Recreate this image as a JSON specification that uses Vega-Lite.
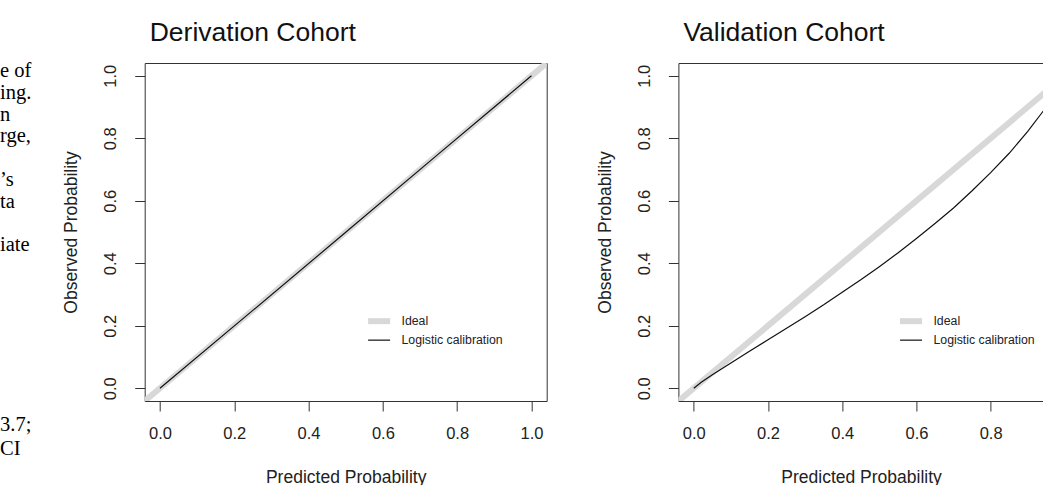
{
  "$schema": "https://vega.github.io/schema/vega-lite/v6.json",
  "background": "white",
  "padding": {"left": 0, "top": 19, "right": 0, "bottom": 0},
  "config": {
    "font": "Liberation Sans",
    "view": {"stroke": null},
    "axis": {
      "grid": false,
      "domainColor": "#333333",
      "tickColor": "#333333",
      "labelColor": "#222222",
      "titleColor": "#222222",
      "labelFont": "Liberation Sans",
      "titleFont": "Liberation Sans",
      "labelFontSize": 16.5,
      "titleFontSize": 17.5,
      "titleFontWeight": "normal",
      "tickSize": 10,
      "labelFlush": false,
      "labelOverlap": false
    },
    "axisX": {"labelPadding": 14, "titlePadding": 26.5},
    "axisY": {"labelAngle": -90, "labelAlign": "center", "labelBaseline": "bottom", "labelPadding": 16, "titlePadding": 22},
    "title": {"fontSize": 26.5, "fontWeight": "normal", "anchor": "start", "frame": "group", "color": "#111111", "offset": 17, "baseline": "alphabetic", "dx": 5, "font": "Liberation Sans"}
  },
  "datasets": {
    "notes": [
      {"row": 0, "text": "e of"},
      {"row": 1, "text": "ing."},
      {"row": 2, "text": "n"},
      {"row": 3, "text": "rge,"},
      {"row": 5, "text": "’s"},
      {"row": 6, "text": "ta"},
      {"row": 8, "text": "iate"},
      {"row": 16.24, "text": "3.7;"},
      {"row": 17.34, "text": "CI"}
    ],
    "curves": [
      {"panel": "Derivation", "series": "Ideal", "predicted": -0.05, "observed": -0.05},
      {"panel": "Derivation", "series": "Ideal", "predicted": 1.05, "observed": 1.05},
      {"panel": "Derivation", "series": "Logistic calibration", "predicted": 0.0, "observed": 0.0},
      {"panel": "Derivation", "series": "Logistic calibration", "predicted": 0.25, "observed": 0.249},
      {"panel": "Derivation", "series": "Logistic calibration", "predicted": 0.5, "observed": 0.499},
      {"panel": "Derivation", "series": "Logistic calibration", "predicted": 0.75, "observed": 0.75},
      {"panel": "Derivation", "series": "Logistic calibration", "predicted": 1.0, "observed": 1.0},
      {"panel": "Validation", "series": "Ideal", "predicted": -0.05, "observed": -0.05},
      {"panel": "Validation", "series": "Ideal", "predicted": 1.05, "observed": 1.05},
      {"panel": "Validation", "series": "Logistic calibration", "predicted": 0.0, "observed": 0.0},
      {"panel": "Validation", "series": "Logistic calibration", "predicted": 0.02, "observed": 0.019},
      {"panel": "Validation", "series": "Logistic calibration", "predicted": 0.05, "observed": 0.043},
      {"panel": "Validation", "series": "Logistic calibration", "predicted": 0.1, "observed": 0.081},
      {"panel": "Validation", "series": "Logistic calibration", "predicted": 0.15, "observed": 0.118},
      {"panel": "Validation", "series": "Logistic calibration", "predicted": 0.2, "observed": 0.155},
      {"panel": "Validation", "series": "Logistic calibration", "predicted": 0.25, "observed": 0.192},
      {"panel": "Validation", "series": "Logistic calibration", "predicted": 0.3, "observed": 0.229},
      {"panel": "Validation", "series": "Logistic calibration", "predicted": 0.35, "observed": 0.267},
      {"panel": "Validation", "series": "Logistic calibration", "predicted": 0.4, "observed": 0.307},
      {"panel": "Validation", "series": "Logistic calibration", "predicted": 0.45, "observed": 0.347},
      {"panel": "Validation", "series": "Logistic calibration", "predicted": 0.5, "observed": 0.389},
      {"panel": "Validation", "series": "Logistic calibration", "predicted": 0.55, "observed": 0.433},
      {"panel": "Validation", "series": "Logistic calibration", "predicted": 0.6, "observed": 0.479},
      {"panel": "Validation", "series": "Logistic calibration", "predicted": 0.65, "observed": 0.527},
      {"panel": "Validation", "series": "Logistic calibration", "predicted": 0.7, "observed": 0.577},
      {"panel": "Validation", "series": "Logistic calibration", "predicted": 0.75, "observed": 0.632},
      {"panel": "Validation", "series": "Logistic calibration", "predicted": 0.8, "observed": 0.69},
      {"panel": "Validation", "series": "Logistic calibration", "predicted": 0.85, "observed": 0.752},
      {"panel": "Validation", "series": "Logistic calibration", "predicted": 0.9, "observed": 0.822},
      {"panel": "Validation", "series": "Logistic calibration", "predicted": 0.95, "observed": 0.9},
      {"panel": "Validation", "series": "Logistic calibration", "predicted": 0.98, "observed": 0.955},
      {"panel": "Validation", "series": "Logistic calibration", "predicted": 1.0, "observed": 1.0}
    ]
  },
  "bounds": "flush",
  "spacing": 131.7,
  "hconcat": [
    {
      "width": 12.3,
      "height": 338,
      "data": {"name": "notes"},
      "mark": {"type": "text", "align": "left", "baseline": "middle", "font": "Liberation Serif", "fontSize": 20.5, "color": "#000000"},
      "encoding": {
        "x": {"datum": 0, "type": "quantitative", "scale": {"domain": [0, 1]}, "axis": null},
        "y": {"field": "row", "type": "quantitative", "scale": {"domain": [-0.367, 15.135], "reverse": true, "zero": false, "nice": false}, "axis": null},
        "text": {"field": "text"}
      }
    },
    {
      "width": 402,
      "height": 338,
      "title": {"text": "Derivation Cohort"},
      "data": {"name": "curves"},
      "transform": [{"filter": "datum.panel === 'Derivation'"}],
      "encoding": {
        "color": {"field": "series", "type": "nominal", "scale": {"domain": ["Ideal", "Logistic calibration"], "range": ["#d8d8d8", "#111111"]},
          "legend": {"title": null, "orient": "none", "legendX": 228.25, "legendY": 252, "symbolType": "M-4,0H4", "symbolSize": 30.25, "labelFontSize": 12.3, "labelOffset": 16.25, "rowPadding": -12, "labelColor": "#222222", "labelFont": "Liberation Sans"}},
        "strokeWidth": {"field": "series", "type": "nominal", "scale": {"domain": ["Ideal", "Logistic calibration"], "range": [6, 1.2]},
          "legend": {"title": null, "orient": "none", "legendX": 228.25, "legendY": 252, "symbolType": "M-4,0H4", "symbolSize": 30.25, "labelFontSize": 12.3, "labelOffset": 16.25, "rowPadding": -12, "labelColor": "#222222", "labelFont": "Liberation Sans"}}
      },
      "layer": [
        {
          "transform": [{"filter": "datum.series === 'Ideal'"}],
          "mark": {"type": "line", "clip": true},
          "encoding": {
            "x": {"field": "predicted", "type": "quantitative", "scale": {"domain": [-0.041, 1.041], "nice": false, "zero": false},
              "axis": {"orient": "bottom", "values": [0, 0.2, 0.4, 0.6, 0.8, 1.0], "format": ".1f", "title": "Predicted Probability"}},
            "y": {"field": "observed", "type": "quantitative", "scale": {"domain": [-0.041, 1.041], "nice": false, "zero": false},
              "axis": {"orient": "left", "values": [0, 0.2, 0.4, 0.6, 0.8, 1.0], "format": ".1f", "title": "Observed Probability"}}
          }
        },
        {
          "transform": [{"filter": "datum.series !== 'Ideal'"}],
          "mark": {"type": "line", "clip": true},
          "encoding": {
            "x": {"field": "predicted", "type": "quantitative",
              "axis": {"orient": "top", "labels": false, "ticks": false, "title": null, "domain": true}},
            "y": {"field": "observed", "type": "quantitative",
              "axis": {"orient": "right", "labels": false, "ticks": false, "title": null, "domain": true}}
          }
        }
      ],
      "resolve": {"axis": {"x": "independent", "y": "independent"}}
    },
    {
      "width": 365.3,
      "height": 338,
      "title": {"text": "Validation Cohort"},
      "data": {"name": "curves"},
      "transform": [{"filter": "datum.panel === 'Validation'"}],
      "encoding": {
        "color": {"field": "series", "type": "nominal", "scale": {"domain": ["Ideal", "Logistic calibration"], "range": ["#d8d8d8", "#111111"]},
          "legend": {"title": null, "orient": "none", "legendX": 226.5, "legendY": 252, "symbolType": "M-4,0H4", "symbolSize": 30.25, "labelFontSize": 12.3, "labelOffset": 16.25, "rowPadding": -12, "labelColor": "#222222", "labelFont": "Liberation Sans"}},
        "strokeWidth": {"field": "series", "type": "nominal", "scale": {"domain": ["Ideal", "Logistic calibration"], "range": [6, 1.2]},
          "legend": {"title": null, "orient": "none", "legendX": 226.5, "legendY": 252, "symbolType": "M-4,0H4", "symbolSize": 30.25, "labelFontSize": 12.3, "labelOffset": 16.25, "rowPadding": -12, "labelColor": "#222222", "labelFont": "Liberation Sans"}}
      },
      "layer": [
        {
          "transform": [{"filter": "datum.series === 'Ideal'"}],
          "mark": {"type": "line", "clip": true},
          "encoding": {
            "x": {"field": "predicted", "type": "quantitative", "scale": {"domain": [-0.0415, 0.943], "nice": false, "zero": false},
              "axis": {"orient": "bottom", "values": [0, 0.2, 0.4, 0.6, 0.8], "format": ".1f", "title": "Predicted Probability"}},
            "y": {"field": "observed", "type": "quantitative", "scale": {"domain": [-0.041, 1.041], "nice": false, "zero": false},
              "axis": {"orient": "left", "values": [0, 0.2, 0.4, 0.6, 0.8, 1.0], "format": ".1f", "title": "Observed Probability"}}
          }
        },
        {
          "transform": [{"filter": "datum.series !== 'Ideal'"}],
          "mark": {"type": "line", "clip": true},
          "encoding": {
            "x": {"field": "predicted", "type": "quantitative",
              "axis": {"orient": "top", "labels": false, "ticks": false, "title": null, "domain": true}},
            "y": {"field": "observed", "type": "quantitative", "axis": null}
          }
        }
      ],
      "resolve": {"axis": {"x": "independent", "y": "independent"}}
    }
  ],
  "resolve": {"scale": {"color": "independent", "strokeWidth": "independent"}, "legend": {"color": "independent", "strokeWidth": "independent"}}
}
